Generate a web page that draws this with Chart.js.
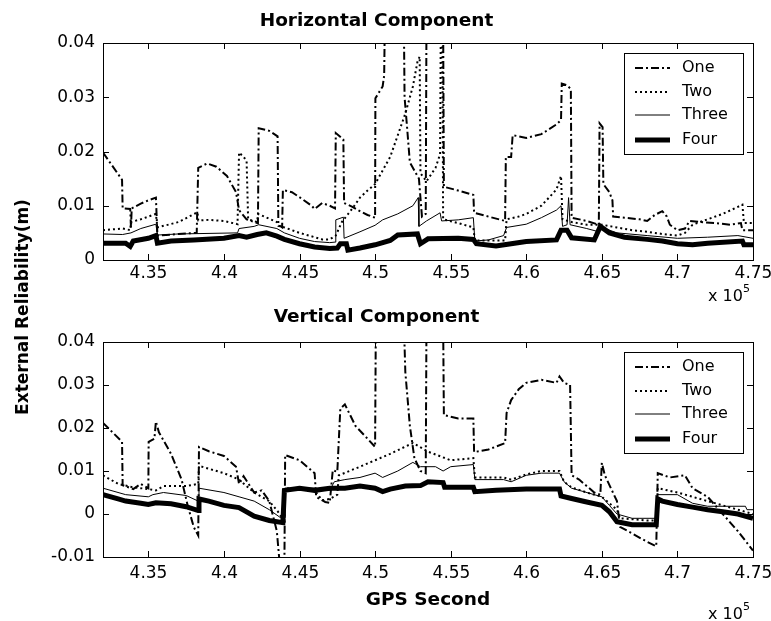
<!DOCTYPE html>
<html>
<head>
<meta charset="utf-8">
<script src="https://cdn.jsdelivr.net/npm/chart.js@4/dist/chart.umd.min.js"></script>
<style>
body { margin: 0; background: #fff; }
#wrap { position: relative; width: 771px; height: 621px; font-family: "DejaVu Sans", sans-serif; color: #000; }
canvas { position: absolute; left: 0; }
#c1 { top: 0; }
#c2 { top: 300px; }
.mult { position: absolute; left: 708px; font-size: 16px; line-height: 16px; }
.mult sup { font-size: 11px; position: relative; top: -3px; }
#ylab { position: absolute; left: -128px; top: 297px; width: 300px; text-align: center;
        font-weight: bold; font-size: 17px; line-height: 20px; transform: rotate(-90deg); }
</style>
</head>
<body>
<div id="wrap">
  <canvas id="c1" width="771" height="300"></canvas>
  <canvas id="c2" width="771" height="321"></canvas>
  <div class="mult" style="top:284px">x 10<sup>5</sup></div>
  <div class="mult" style="top:602px">x 10<sup>5</sup></div>
  <div id="ylab">External Reliability(m)</div>
</div>
<script>
// GPS second on x, external reliability (m) on y

const seriesNames = ["One", "Two", "Three", "Four"];
const xTicks = [435000, 440000, 445000, 450000, 455000, 460000, 465000, 470000, 475000];
const yTicksH = [0, 0.01, 0.02, 0.03, 0.04];
const yTicksV = [-0.01, 0, 0.01, 0.02, 0.03, 0.04];

// Horizontal component
const hOneX = [432000, 433260, 433300, 433800, 433850, 433900, 434500, 435000, 435500, 435600, 437000, 438200, 438300, 438900, 439500, 440200, 440800, 441000, 441200, 441500, 442000, 442250, 442300, 443000, 443550, 443600, 443850, 443900, 444500, 445200, 445800, 446000, 446500, 447000, 447350, 447400, 447900, 447950, 448500, 449000, 449500, 450000, 450020, 450500, 450600, 450650, 451900, 451950, 452100, 452300, 452700, 452900, 453100, 453350, 453400, 454500, 454550, 455500, 456500, 456550, 457500, 458600, 458650, 459000, 459100, 459500, 460000, 461000, 462000, 462300, 462350, 462700, 462950, 463000, 464000, 464800, 464850, 465050, 465100, 465500, 465700, 465750, 466500, 467500, 468000, 468500, 469000, 469300, 469500, 470000, 470500, 470800, 471500, 472500, 473500, 474200, 474300, 475000];
const hOneY = [0.0198, 0.0148, 0.0095, 0.0094, 0.0060, 0.0095, 0.0104, 0.0110, 0.0115, 0.0045, 0.0048, 0.0050, 0.0170, 0.0178, 0.0172, 0.0155, 0.0125, 0.0092, 0.0085, 0.0075, 0.0070, 0.0068, 0.0243, 0.0238, 0.0228, 0.0065, 0.0060, 0.0129, 0.0125, 0.0112, 0.0100, 0.0094, 0.0105, 0.0100, 0.0095, 0.0234, 0.0222, 0.0105, 0.0098, 0.0090, 0.0083, 0.0078, 0.0298, 0.0320, 0.0340, 0.0450, 0.0450, 0.0300, 0.0250, 0.0180, 0.0160, 0.0150, 0.0080, 0.0085, 0.0450, 0.0450, 0.0135, 0.0128, 0.0120, 0.0087, 0.0080, 0.0072, 0.0190, 0.0190, 0.0230, 0.0228, 0.0225, 0.0232, 0.0250, 0.0258, 0.0325, 0.0322, 0.0315, 0.0078, 0.0072, 0.0065, 0.0252, 0.0245, 0.0140, 0.0125, 0.0110, 0.0080, 0.0078, 0.0075, 0.0072, 0.0083, 0.0090, 0.0080, 0.0065, 0.0055, 0.0058, 0.0072, 0.0070, 0.0068, 0.0065, 0.0068, 0.0055, 0.0055];

const hTwoX = [432000, 433300, 433800, 433850, 434500, 435500, 435600, 437000, 438250, 438300, 439000, 440000, 440900, 441000, 441300, 441500, 441600, 442200, 442250, 443500, 443600, 444000, 445000, 446000, 446500, 447000, 447400, 447800, 448500, 449000, 449500, 450000, 450500, 451000, 451500, 452000, 452500, 452800, 452950, 453000, 453400, 454000, 454300, 454350, 454450, 454500, 455500, 456500, 456600, 458600, 458700, 459500, 460000, 461000, 462000, 462300, 462400, 463000, 464000, 465000, 466000, 467000, 468000, 469000, 470000, 470500, 471000, 472000, 473000, 474000, 474300, 474400, 475000];
const hTwoY = [0.0055, 0.0058, 0.0055, 0.0070, 0.0075, 0.0085, 0.0060, 0.0070, 0.0088, 0.0073, 0.0074, 0.0072, 0.0066, 0.0198, 0.0190, 0.0183, 0.0075, 0.0070, 0.0085, 0.0070, 0.0063, 0.0060, 0.0050, 0.0042, 0.0038, 0.0038, 0.0045, 0.0070, 0.0095, 0.0115, 0.0128, 0.0140, 0.0165, 0.0190, 0.0230, 0.0270, 0.0320, 0.0365, 0.0375, 0.0160, 0.0145, 0.0170, 0.0195, 0.0450, 0.0450, 0.0075, 0.0068, 0.0060, 0.0036, 0.0036, 0.0075, 0.0080, 0.0085, 0.0100, 0.0130, 0.0155, 0.0075, 0.0070, 0.0065, 0.0065, 0.0060, 0.0055, 0.0052, 0.0048, 0.0045, 0.0050, 0.0065, 0.0075, 0.0085, 0.0098, 0.0102, 0.0068, 0.0068];

const hThreeX = [432000, 433300, 433850, 434500, 435500, 435600, 437000, 440900, 441000, 442000, 442300, 443500, 444000, 445000, 446000, 447000, 447350, 447400, 447900, 447950, 449000, 450000, 450500, 451500, 452500, 452850, 452900, 453400, 454300, 454400, 455500, 456500, 456600, 457500, 458500, 458700, 460000, 461000, 462000, 462300, 462400, 462700, 462800, 462900, 464000, 464800, 465000, 466000, 468000, 470000, 472000, 474000, 475000];
const hThreeY = [0.0048, 0.0047, 0.0050, 0.0058, 0.0066, 0.0046, 0.0048, 0.0050, 0.0058, 0.0062, 0.0065, 0.0058, 0.0050, 0.0040, 0.0034, 0.0032, 0.0033, 0.0074, 0.0079, 0.0040, 0.0052, 0.0064, 0.0074, 0.0085, 0.0100, 0.0115, 0.0062, 0.0072, 0.0087, 0.0072, 0.0074, 0.0078, 0.0035, 0.0037, 0.0045, 0.0060, 0.0066, 0.0078, 0.0092, 0.0100, 0.0062, 0.0065, 0.0115, 0.0065, 0.0058, 0.0052, 0.0060, 0.0050, 0.0045, 0.0040, 0.0042, 0.0045, 0.0040];

const hFourX = [432000, 433500, 433800, 434000, 435000, 435500, 435600, 436500, 438000, 440000, 441000, 441500, 442200, 442800, 443500, 444000, 445000, 446000, 447000, 447500, 447700, 448100, 448200, 449000, 450000, 451000, 451500, 452800, 453000, 453500, 455500, 456500, 456700, 458000, 459000, 460000, 462000, 462300, 462700, 463000, 464500, 464900, 465500, 466500, 468000, 469000, 470000, 471000, 472000, 474300, 474400, 475000];
const hFourY = [0.0031, 0.0031, 0.0025, 0.0035, 0.0040, 0.0045, 0.0031, 0.0035, 0.0037, 0.0040, 0.0045, 0.0042, 0.0047, 0.0050, 0.0044, 0.0038, 0.0030, 0.0024, 0.0021, 0.0022, 0.0030, 0.0030, 0.0018, 0.0022, 0.0028, 0.0036, 0.0046, 0.0048, 0.0030, 0.0039, 0.0040, 0.0038, 0.0030, 0.0026, 0.0030, 0.0034, 0.0037, 0.0055, 0.0055, 0.0041, 0.0037, 0.0062, 0.0050, 0.0042, 0.0038, 0.0035, 0.0030, 0.0028, 0.0031, 0.0035, 0.0028, 0.0028];

// Vertical component
const vOneX = [432000, 433260, 433300, 434000, 434500, 435000, 435020, 435400, 435500, 435700, 436500, 437200, 437600, 438000, 438300, 438350, 439000, 440000, 440800, 441000, 441300, 442000, 442500, 443000, 443500, 443700, 444000, 444050, 445000, 445500, 446000, 446100, 446700, 447000, 447200, 447500, 447700, 448000, 448700, 449500, 450000, 450050, 451900, 452000, 452300, 452600, 453000, 453350, 453400, 454500, 454550, 455500, 456500, 456550, 457500, 458600, 458700, 459000, 459500, 460000, 461000, 462000, 462200, 462500, 462900, 463000, 463500, 464500, 464900, 465000, 465200, 466000, 466200, 467000, 468000, 468600, 468700, 469500, 470500, 471000, 472000, 473000, 474000, 475000];
const vOneY = [0.0212, 0.0168, 0.0067, 0.0058, 0.0070, 0.0060, 0.0168, 0.0175, 0.0215, 0.0190, 0.0140, 0.0080, 0.0020, -0.0030, -0.0050, 0.0156, 0.0146, 0.0135, 0.0110, 0.0070, 0.0088, 0.0050, 0.0055, 0.0030, -0.0040, -0.0120, -0.0120, 0.0137, 0.0125, 0.0110, 0.0095, 0.0040, 0.0028, 0.0026, 0.0102, 0.0098, 0.0245, 0.0255, 0.0205, 0.0175, 0.0156, 0.0450, 0.0450, 0.0330, 0.0205, 0.0130, 0.0100, 0.0095, 0.0450, 0.0450, 0.0230, 0.0222, 0.0222, 0.0144, 0.0150, 0.0165, 0.0235, 0.0265, 0.0290, 0.0305, 0.0312, 0.0305, 0.0320, 0.0305, 0.0300, 0.0090, 0.0080, 0.0050, 0.0045, 0.0119, 0.0090, 0.0030, -0.0030, -0.0045, -0.0065, -0.0075, 0.0095, 0.0085, 0.0090, 0.0060, 0.0040, 0.0000, -0.0040, -0.0085];

const vTwoX = [432000, 433000, 434000, 435000, 435500, 436000, 437500, 438300, 438350, 440000, 441000, 442000, 443000, 443700, 444000, 444050, 446000, 446500, 447000, 447500, 447600, 449000, 450000, 451000, 452500, 453500, 455000, 456500, 456600, 458500, 459000, 460000, 461000, 462200, 462500, 463000, 464000, 465000, 466000, 466200, 468000, 468600, 468700, 470000, 471000, 472000, 473000, 474000, 475000];
const vTwoY = [0.0090, 0.0070, 0.0062, 0.0058, 0.0055, 0.0065, 0.0065, 0.0070, 0.0112, 0.0095, 0.0080, 0.0050, 0.0030, 0.0000, -0.0020, 0.0060, 0.0055, 0.0032, 0.0035, 0.0045, 0.0090, 0.0110, 0.0125, 0.0140, 0.0165, 0.0145, 0.0125, 0.0130, 0.0085, 0.0085, 0.0080, 0.0092, 0.0100, 0.0100, 0.0075, 0.0062, 0.0050, 0.0040, 0.0010, -0.0010, -0.0015, -0.0015, 0.0060, 0.0050, 0.0040, 0.0030, 0.0020, 0.0010, 0.0000];

const vThreeX = [432000, 433500, 435000, 435300, 436000, 437500, 438300, 438350, 440000, 441000, 442000, 443000, 443800, 444050, 446000, 447000, 447300, 448000, 449000, 450000, 450500, 451500, 452500, 453000, 454000, 454500, 455000, 456500, 456600, 458500, 459000, 460000, 461000, 462200, 462500, 463000, 465000, 465500, 466000, 467000, 468600, 468700, 470000, 471000, 472000, 474500, 474600, 475000];
const vThreeY = [0.0060, 0.0045, 0.0040, 0.0045, 0.0050, 0.0043, 0.0030, 0.0060, 0.0050, 0.0040, 0.0030, 0.0010, -0.0010, 0.0060, 0.0060, 0.0055, 0.0075, 0.0080, 0.0085, 0.0095, 0.0085, 0.0100, 0.0120, 0.0110, 0.0110, 0.0100, 0.0110, 0.0115, 0.0080, 0.0080, 0.0075, 0.0090, 0.0095, 0.0095, 0.0075, 0.0060, 0.0040, 0.0020, 0.0000, -0.0010, -0.0010, 0.0045, 0.0045, 0.0025, 0.0018, 0.0018, 0.0010, 0.0010];

const vFourX = [432000, 433000, 433500, 434500, 435000, 435500, 436500, 437500, 438300, 438350, 439000, 440000, 441000, 441500, 442000, 443000, 443900, 444000, 445000, 446000, 447000, 448000, 449000, 450000, 450500, 451000, 452000, 453000, 453500, 454500, 454600, 456500, 456600, 458000, 460000, 462200, 462300, 463000, 464000, 465000, 465500, 466000, 467000, 468600, 468700, 469000, 470000, 471000, 472000, 473000, 474000, 475000];
const vFourY = [0.0045, 0.0035, 0.0030, 0.0025, 0.0022, 0.0026, 0.0024, 0.0017, 0.0008, 0.0035, 0.0030, 0.0020, 0.0015, 0.0005, -0.0005, -0.0015, -0.0020, 0.0055, 0.0060, 0.0055, 0.0060, 0.0060, 0.0065, 0.0060, 0.0052, 0.0058, 0.0065, 0.0066, 0.0075, 0.0073, 0.0062, 0.0062, 0.0052, 0.0055, 0.0058, 0.0058, 0.0042, 0.0036, 0.0028, 0.0020, 0.0005, -0.0018, -0.0025, -0.0025, 0.0035, 0.0030, 0.0022, 0.0016, 0.0010, 0.0005, 0.0000, -0.0010];

const FONT = "'DejaVu Sans', sans-serif";
const styles = [
    { borderWidth: 2, borderDash: [8, 3, 2, 3] },
    { borderWidth: 2, borderDash: [2, 3] },
    { borderWidth: 1, borderDash: [] },
    { borderWidth: 5, borderDash: [] }
];

function pairs(xs, ys) {
    return xs.map((x, i) => ({ x: x, y: ys[i] }));
}

function makeDatasets(xsList, ysList) {
    return xsList.map((xs, i) => ({
        label: seriesNames[i],
        data: pairs(xs, ysList[i]),
        borderColor: "#000",
        borderWidth: styles[i].borderWidth,
        borderDash: styles[i].borderDash,
        pointRadius: 0,
        tension: 0,
        fill: false,
        clip: 0
    }));
}

// box, inward ticks on all sides, x tick labels, legend inside the axes
const framePlugin = {
    id: "frame",
    afterDraw(chart, args, opts) {
        const { ctx, chartArea: a, scales } = chart;
        ctx.save();
        ctx.strokeStyle = "#000";
        ctx.lineWidth = 1;
        ctx.setLineDash([]);
        ctx.strokeRect(Math.round(a.left) + 0.5, Math.round(a.top) + 0.5,
                       Math.round(a.right - a.left), Math.round(a.bottom - a.top));
        ctx.beginPath();
        ctx.font = "17px " + FONT;
        ctx.fillStyle = "#000";
        ctx.textAlign = "center";
        ctx.textBaseline = "middle";
        scales.x.ticks.forEach(t => {
            const px = Math.round(scales.x.getPixelForValue(t.value)) + 0.5;
            ctx.moveTo(px, a.bottom); ctx.lineTo(px, a.bottom - 6);
            ctx.moveTo(px, a.top); ctx.lineTo(px, a.top + 6);
            ctx.fillText(String(+(t.value / 1e5).toFixed(2)), px, a.bottom + opts.labelOffset);
        });
        scales.y.ticks.forEach(t => {
            const py = Math.round(scales.y.getPixelForValue(t.value)) + 0.5;
            ctx.moveTo(a.left, py); ctx.lineTo(a.left + 6, py);
            ctx.moveTo(a.right, py); ctx.lineTo(a.right - 6, py);
        });
        ctx.stroke();

        const bx = Math.round(a.right) - 129, by = Math.round(a.top) + 10;
        ctx.fillStyle = "#fff";
        ctx.fillRect(bx, by, 119, 101);
        ctx.strokeRect(bx + 0.5, by + 0.5, 119, 101);
        ctx.font = "16px " + FONT;
        ctx.textAlign = "left";
        ctx.fillStyle = "#000";
        const rows = [15, 39, 62, 87];
        chart.data.datasets.forEach((ds, i) => {
            const y = by + rows[i];
            ctx.beginPath();
            ctx.lineWidth = ds.borderWidth;
            ctx.setLineDash(ds.borderDash);
            ctx.moveTo(bx + 11, y); ctx.lineTo(bx + 46, y);
            ctx.stroke();
            ctx.fillText(ds.label, bx + 58, y);
        });
        ctx.restore();
    }
};

function makeChart(id, title, titlePad, xHeight, labelOffset, xTitle, yMin, yMax, yTicks, datasets) {
    return new Chart(document.getElementById(id), {
        type: "line",
        data: { datasets: datasets },
        options: {
            responsive: false,
            animation: false,
            devicePixelRatio: 1,
            layout: { padding: { left: 0, right: 18, top: 0, bottom: 0 } },
            plugins: {
                legend: { display: false },
                tooltip: { enabled: false },
                frame: { labelOffset: labelOffset },
                title: {
                    display: true, text: title, color: "#000",
                    font: { family: FONT, size: 18.5, weight: "bold" },
                    padding: titlePad
                }
            },
            scales: {
                x: {
                    type: "linear", min: 432000, max: 475000,
                    grid: { display: false }, border: { display: false },
                    afterBuildTicks: s => { s.ticks = xTicks.map(v => ({ value: v })); },
                    afterFit: s => { s.height = xHeight; s.paddingLeft = 0; s.paddingRight = 0; },
                    ticks: { display: false },
                    title: xTitle ? {
                        display: true, text: xTitle, color: "#000",
                        font: { family: FONT, size: 18.5, weight: "bold" },
                        padding: { top: 0, bottom: 10 }
                    } : { display: false }
                },
                y: {
                    min: yMin, max: yMax,
                    grid: { display: false }, border: { display: false },
                    afterBuildTicks: s => { s.ticks = yTicks.map(v => ({ value: v })); },
                    afterFit: s => { s.width = 103; s.paddingTop = 0; s.paddingBottom = 0; },
                    ticks: {
                        color: "#000", font: { family: FONT, size: 17 }, padding: 0,
                        callback: v => String(+v.toFixed(2))
                    }
                }
            }
        },
        plugins: [framePlugin]
    });
}

makeChart("c1", "Horizontal Component", { top: 10, bottom: 10.8 }, 40, 14, null, 0, 0.04, yTicksH,
    makeDatasets([hOneX, hTwoX, hThreeX, hFourX], [hOneY, hTwoY, hThreeY, hFourY]));

makeChart("c2", "Vertical Component", { top: 6, bottom: 13.8 }, 64, 17, "GPS Second", -0.01, 0.04, yTicksV,
    makeDatasets([vOneX, vTwoX, vThreeX, vFourX], [vOneY, vTwoY, vThreeY, vFourY]));
</script>
</body>
</html>
